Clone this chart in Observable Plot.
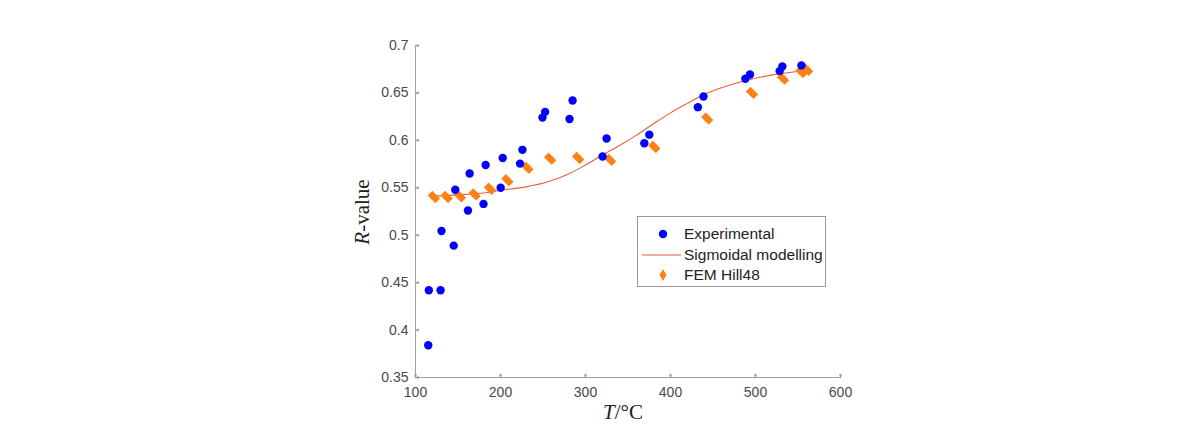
<!DOCTYPE html>
<html>
<head>
<meta charset="utf-8">
<script src="https://cdn.jsdelivr.net/npm/d3@7"></script>
<script src="https://cdn.jsdelivr.net/npm/@observablehq/plot@0.6"></script>
<style>
  html, body { margin: 0; padding: 0; background: #fff; }
  #wrap { position: relative; width: 1196px; height: 437px; }
  #legend {
    position: absolute; left: 637px; top: 216px; width: 189px; height: 71px;
    border: 1px solid #9a9a9a; background: #fff; box-sizing: border-box;
    font-family: "Liberation Sans", Arial, sans-serif; font-size: 15.5px; color: #222;
  }
  .row { position: absolute; left: 0; height: 20px; width: 100%; }
  .row span.lbl { position: absolute; left: 46px; top: 1px; white-space: nowrap; line-height: 18px; }
  .sym { position: absolute; top: 0; }
  .xlab, .ylab { position: absolute; font-family: "Liberation Serif", "DejaVu Serif", serif; font-size: 21px; color: #222; white-space: nowrap; line-height: 24px; }
</style>
</head>
<body>
<div id="wrap"></div>
<script>
// Experimental R-values
const expT = [115, 115.7, 129.5, 130.6, 145, 146.8, 161.7, 163.7, 180, 182.5, 200.2, 202.6, 223, 225.8, 249.4, 252.5, 281.2, 284.8, 320.1, 324.8, 369.2, 375.1, 432.2, 438.8, 488, 493.5, 528.4, 531.6, 554];
const expR = [0.384, 0.442, 0.442, 0.5045, 0.489, 0.548, 0.526, 0.565, 0.533, 0.574, 0.550, 0.5814, 0.5755, 0.590, 0.624, 0.630, 0.6225, 0.642, 0.583, 0.602, 0.597, 0.606, 0.635, 0.6463, 0.665, 0.6695, 0.673, 0.678, 0.679];
// FEM Hill48 predictions
const femT = [121.6, 136.6, 152.3, 169.6, 187.7, 208.1, 231.7, 258.4, 291.4, 329, 381, 443.2, 495.9, 532.4, 554, 560.7];
const femR = [0.5403, 0.5403, 0.541, 0.543, 0.549, 0.558, 0.571, 0.5807, 0.5814, 0.5795, 0.593, 0.623, 0.650, 0.665, 0.672, 0.6744];
// Sigmoidal modelling curve
const sigT = [118, 150, 180, 200, 230, 255, 280, 300, 320, 340, 360, 380, 400, 420, 440, 460, 480, 500, 520, 540, 562];
const sigR = [0.541, 0.5425, 0.5445, 0.5474, 0.551, 0.556, 0.5645, 0.574, 0.5845, 0.5945, 0.6055, 0.6175, 0.629, 0.639, 0.6485, 0.6555, 0.661, 0.6655, 0.669, 0.6715, 0.674];
const xTicks = [100, 200, 300, 400, 500, 600];
const yTicks = [0.35, 0.4, 0.45, 0.5, 0.55, 0.6, 0.65, 0.7];

const expData = expT.map((t, i) => ({T: t, R: expR[i]}));
const femData = femT.map((t, i) => ({T: t, R: femR[i]}));
const sigData = sigT.map((t, i) => ({T: t, R: sigR[i]}));

const blue = "#0000ff";
const orange = "#ff8015";
const lineCol = "#e2603a";
const axisCol = "#a0a0a0";
const tickTextCol = "#4a4a4a";

const chart = Plot.plot({
  width: 1196,
  height: 437,
  marginLeft: 415,
  marginRight: 356,
  marginTop: 45,
  marginBottom: 60,
  style: {fontFamily: "'Liberation Sans', Arial, sans-serif", fontSize: "14px", background: "transparent"},
  x: {domain: [100, 600]},
  y: {domain: [0.35, 0.7]},
  marks: [
    Plot.axisX({ticks: xTicks, tickSize: 0, tickPadding: 10, label: null, color: tickTextCol, tickFormat: d => String(d)}),
    Plot.axisY({ticks: yTicks, tickSize: 0, tickPadding: 7, label: null, color: tickTextCol, tickFormat: d => String(+d.toFixed(2))}),
    Plot.vector(xTicks, {x: d => d, y: 0.35, length: 3, rotate: 0, anchor: "start", stroke: axisCol}),
    Plot.vector(yTicks, {x: 100, y: d => d, length: 3, rotate: 90, anchor: "start", stroke: axisCol}),
    Plot.ruleX([100], {stroke: axisCol}),
    Plot.ruleY([0.35], {stroke: axisCol}),
    Plot.line(sigData, {x: "T", y: "R", stroke: lineCol, strokeWidth: 1.1, curve: "catmull-rom"}),
    Plot.dot(femData, {x: "T", y: "R", symbol: "diamond2", r: 4.2, fill: orange, stroke: "none", dx: -1.5, dy: -1.5}),
    Plot.dot(femData, {x: "T", y: "R", symbol: "diamond2", r: 4.2, fill: orange, stroke: "none", dx: 1.5, dy: 1.5}),
    Plot.dot(expData, {x: "T", y: "R", r: 4.2, fill: blue, stroke: "none"})
  ]
});

const wrap = document.getElementById("wrap");
wrap.appendChild(chart);

// axis titles
const xl = document.createElement("div");
xl.className = "xlab";
xl.style.left = "603px"; xl.style.top = "400px";
xl.innerHTML = "<i>T</i>/°C";
wrap.appendChild(xl);

const yl = document.createElement("div");
yl.className = "ylab";
yl.style.left = "362px"; yl.style.top = "212px";
yl.style.transform = "translate(-50%, -50%) rotate(-90deg)";
yl.style.transformOrigin = "50% 50%";
yl.innerHTML = "<i>R</i>-value";
wrap.appendChild(yl);

// legend
const leg = document.createElement("div");
leg.id = "legend";
leg.innerHTML = `
  <div class="row" style="top:7px"><svg class="sym" width="44" height="20" style="left:4px"><circle cx="21" cy="10" r="4.2" fill="${blue}"/></svg><span class="lbl">Experimental</span></div>
  <div class="row" style="top:28px"><svg class="sym" width="44" height="20" style="left:4px"><line x1="0" x2="39" y1="10" y2="10" stroke="${lineCol}" stroke-width="1.1"/></svg><span class="lbl">Sigmoidal modelling</span></div>
  <div class="row" style="top:48px"><svg class="sym" width="44" height="20" style="left:4px"><path d="M21,4 L24.5,10 L21,16 L17.5,10 Z" fill="${orange}"/></svg><span class="lbl">FEM Hill48</span></div>`;
wrap.appendChild(leg);
</script>
</body>
</html>
